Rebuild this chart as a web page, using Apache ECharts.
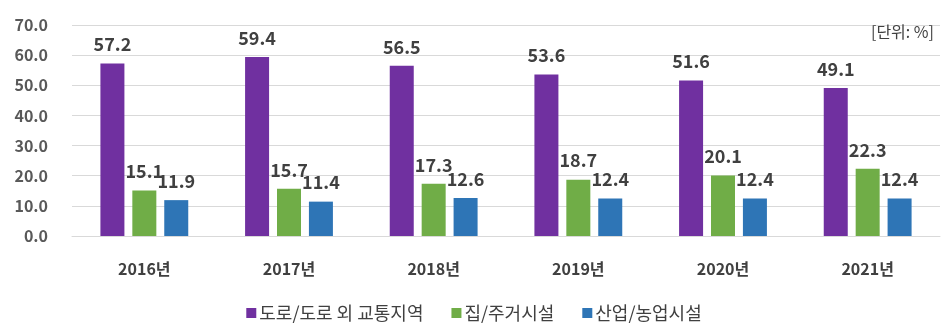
<!DOCTYPE html>
<html><head><meta charset="utf-8">
<script src="https://cdn.jsdelivr.net/npm/echarts@6/dist/echarts.min.js"></script>
<style>html,body{margin:0;padding:0;background:#fff}#c{width:948px;height:331px}</style>
</head><body><div id="c"></div>
<script>
const categories = ['2016년','2017년','2018년','2019년','2020년','2021년'];
const roadTransport = [57.2,59.4,56.5,53.6,51.6,49.1];
const housing = [15.1,15.7,17.3,18.7,20.1,22.3];
const industryFarm = [11.9,11.4,12.6,12.4,12.4,12.4];
const seriesNames = ['도로/도로 외 교통지역','집/주거시설','산업/농업시설'];
const colors = ['#7030A0','#70AD47','#2E75B6'];
const font = '"Noto Sans CJK KR","Noto Sans",sans-serif';
const chart = echarts.init(document.getElementById('c'));
const lbl = {show:true,position:'top',distance:10,fontFamily:font,fontSize:18,fontWeight:'bold',color:'#404040',formatter:p=>p.value.toFixed(1)};
chart.setOption({
  animation:false,
  textStyle:{fontFamily:font},
  grid:{left:72,right:8,top:25,bottom:95},
  title:{text:'[단위: %]',right:9,top:19,textStyle:{fontFamily:font,fontSize:16,fontWeight:'normal',color:'#404040'}},
  legend:{bottom:4,left:'center',itemWidth:10,itemHeight:10,itemGap:28,icon:'rect',
    textStyle:{fontFamily:font,fontSize:18,color:'#404040',padding:[0,0,0,-2]},data:seriesNames},
  xAxis:{type:'category',data:categories,axisLine:{show:true,lineStyle:{color:'#d9d9d9'}},axisTick:{show:false},
    axisLabel:{fontFamily:font,fontSize:16,fontWeight:'bold',color:'#404040',margin:25}},
  yAxis:{type:'value',min:0,max:70,interval:10,axisLine:{show:false},axisTick:{show:false},
    splitLine:{lineStyle:{color:'#d9d9d9'}},
    axisLabel:{fontFamily:font,fontSize:16,fontWeight:'bold',color:'#595959',margin:24,formatter:v=>v.toFixed(1)}},
  series:[
    {name:seriesNames[0],type:'bar',data:roadTransport,barWidth:24,barGap:'33%',itemStyle:{color:colors[0]},label:lbl},
    {name:seriesNames[1],type:'bar',data:housing,barWidth:24,barGap:'33%',itemStyle:{color:colors[1]},label:lbl},
    {name:seriesNames[2],type:'bar',data:industryFarm,barWidth:24,barGap:'33%',itemStyle:{color:colors[2]},label:lbl}
  ]
});
</script></body></html>
